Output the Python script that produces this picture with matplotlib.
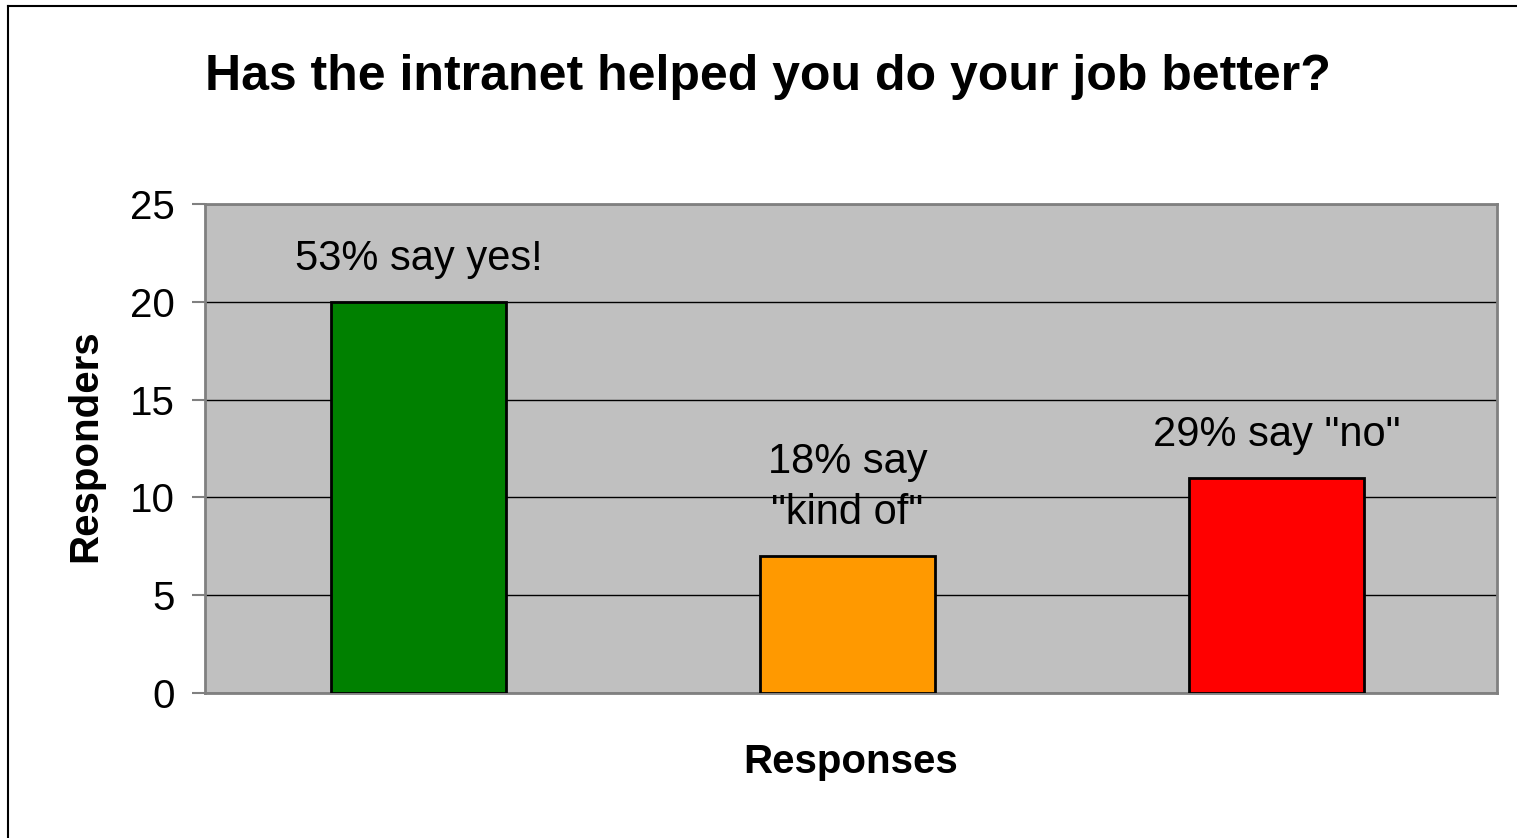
import matplotlib.pyplot as plt
from matplotlib.lines import Line2D

plt.rcParams['font.family'] = ['Liberation Sans', 'DejaVu Sans']

responses = ['Yes', 'Kind of', 'No']
responders = [20, 7, 11]
bar_labels = ['53% say yes!', '18% say\n"kind of"', '29% say "no"']
bar_colors = ['#008000', '#FF9900', '#FF0000']
y_ticks = [0, 5, 10, 15, 20, 25]


def main():
    W, H = 1517, 838
    fig = plt.figure(figsize=(W / 100, H / 100), dpi=100)
    fig.patch.set_facecolor('white')
    ax = fig.add_axes([205 / W, 1 - 693 / H, 1292 / W, 489 / H])
    ax.set_facecolor('#C0C0C0')

    x = range(len(responders))
    bars = ax.bar(x, responders, width=0.408, color=bar_colors,
                  edgecolor='black', linewidth=2, zorder=3)
    for b, lab in zip(bars, bar_labels):
        ax.annotate(lab, (b.get_x() + b.get_width() / 2, b.get_height()),
                    xytext=(0, 23), textcoords='offset points',
                    ha='center', va='baseline', fontsize=30,
                    linespacing=1.35, zorder=4)

    ax.set_xlim(-0.498, 2.514)
    ax.set_ylim(0, 25)
    ax.set_yticks(y_ticks)
    ax.set_xticks([])
    ax.yaxis.grid(True, color='black', linewidth=1, zorder=1)
    ax.set_axisbelow(True)
    ax.tick_params(axis='y', direction='out', length=9.5, width=1.5,
                   color='#808080', labelsize=29, pad=12)
    for s in ax.spines.values():
        s.set_color('#808080')
        s.set_linewidth(2)

    fig.text(85 / W, 1 - 446 / H, 'Responders', rotation=90, fontsize=29,
             fontweight='bold', ha='center', va='center')
    fig.text(851 / W, 1 - 762 / H, 'Responses', fontsize=29,
             fontweight='bold', ha='center', va='center')
    fig.text(205 / W, 1 - 77 / H, 'Has the intranet helped you do your job better?',
             fontsize=36, fontweight='bold', va='center', ha='left')

    # outer chart border (left and top edges only visible)
    fig.add_artist(Line2D([8 / W, 8 / W], [0, 1 - 6 / H],
                          transform=fig.transFigure, color='black', linewidth=1.5))
    fig.add_artist(Line2D([8 / W, 1], [1 - 6 / H, 1 - 6 / H],
                          transform=fig.transFigure, color='black', linewidth=1.5))

    fig.savefig('out.png', dpi=100)


if __name__ == '__main__':
    main()
